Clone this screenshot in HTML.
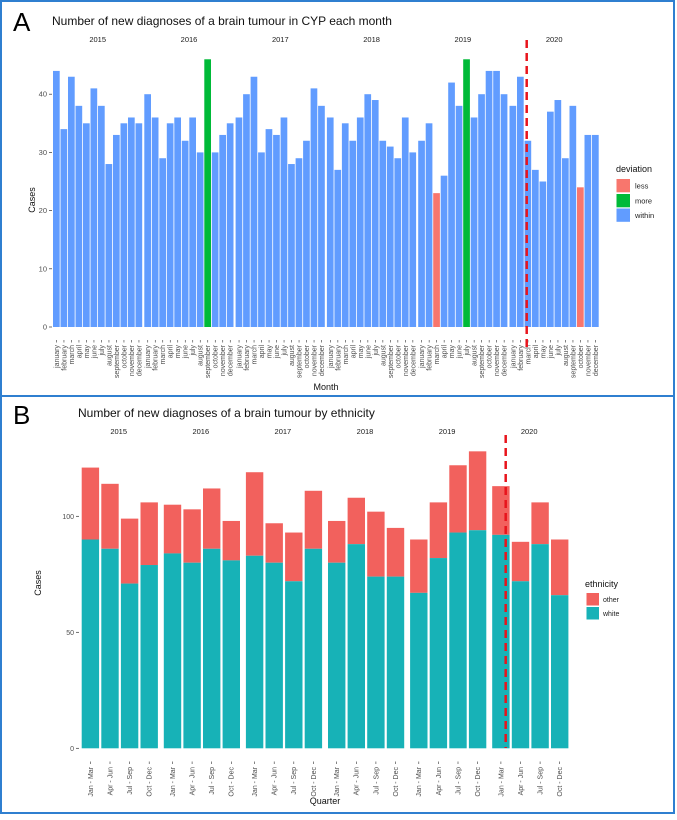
<!DOCTYPE html>
<html><head><meta charset="utf-8">
<style>
html,body{margin:0;padding:0;background:#fff;}
body{width:677px;height:815px;overflow:hidden;font-family:"Liberation Sans",Arial,sans-serif;}
svg text{font-family:"Liberation Sans",Arial,sans-serif;}
</style></head>
<body>
<svg id="fig" width="677" height="815" viewBox="0 0 677 815" xmlns="http://www.w3.org/2000/svg">
  <rect x="1" y="1" width="673" height="395" fill="#fff" stroke="#2f7fd0" stroke-width="2"/>
  <rect x="1" y="396" width="673" height="417" fill="#fff" stroke="#2f7fd0" stroke-width="2"/>
  <text x="13" y="31" font-size="26" fill="#000">A</text>
  <text x="52" y="25" font-size="12" fill="#111">Number of new diagnoses of a brain tumour in CYP each month</text>
  <text x="13" y="424" font-size="26" fill="#000">B</text>
  <text x="78" y="417" font-size="12" fill="#111">Number of new diagnoses of a brain tumour by ethnicity</text>
  <g id="gA"></g>
  <g id="gB"></g>
</svg>
<script>
const years = ["2015","2016","2017","2018","2019","2020"];
const months = ["january","february","march","april","may","june","july","august","september","october","november","december"];
const monthlyCases = [
 44,34,43,38,35,41,38,28,33,35,36,35,
 40,36,29,35,36,32,36,30,46,30,33,35,
 36,40,43,30,34,33,36,28,29,32,41,38,
 36,27,35,32,36,40,39,32,31,29,36,30,
 32,35,23,26,42,38,46,36,40,44,44,40,
 38,43,32,27,25,37,39,29,38,24,33,33];
const monthlyDeviation = [
 "w","w","w","w","w","w","w","w","w","w","w","w",
 "w","w","w","w","w","w","w","w","m","w","w","w",
 "w","w","w","w","w","w","w","w","w","w","w","w",
 "w","w","w","w","w","w","w","w","w","w","w","w",
 "w","w","l","w","w","w","m","w","w","w","w","w",
 "w","w","w","w","w","w","w","w","w","l","w","w"];
const yTicksA = [0,10,20,30,40];
const quarters = ["Jan - Mar","Apr - Jun","Jul - Sep","Oct - Dec"];
const totalCases = [121,114,99,106, 105,103,112,98, 119,97,93,111, 98,108,102,95, 90,106,122,128, 113,89,106,90];
const whiteCases = [90,86,71,79, 84,80,86,81, 83,80,72,86, 80,88,74,74, 67,82,93,94, 92,72,88,66];
const yTicksB = [0,50,100];

const NS="http://www.w3.org/2000/svg";
function mk(parent,tag,attrs,txt){const e=document.createElementNS(NS,tag);for(const k in attrs)e.setAttribute(k,attrs[k]);if(txt!==undefined)e.textContent=txt;parent.appendChild(e);return e;}
const colA={w:"#619cff",m:"#00ba38",l:"#f8766d"};
const colOther="#f2615d", colWhite="#17b2b7";

// Panel A
const gA=document.getElementById('gA');
const yA=v=>327-v*5.82;
const facetXA=i=>52.7+i*91.3;
const step=7.5;
yTicksA.forEach(t=>{
  const tk=mk(gA,'line',{x1:49,x2:52,y1:yA(t),y2:yA(t),stroke:'#333','stroke-width':0.7});
  
  
  const tl=mk(gA,'text',{x:47,y:yA(t)+2.5,'font-size':7.5,fill:'#4d4d4d','text-anchor':'end'},String(t));
  
  
});
const yta=mk(gA,'text',{x:0,y:0,'font-size':9,fill:'#111','text-anchor':'middle',transform:'translate(35,200) rotate(-90)'},'Cases');


years.forEach((yr,fi)=>{
  const fl=mk(gA,'text',{x:facetXA(fi)+45,y:42,'font-size':7.5,fill:'#1a1a1a','text-anchor':'middle'},yr);
  
  
  months.forEach((m,mi)=>{
    const idx=fi*12+mi;const v=monthlyCases[idx];
    const x=facetXA(fi)+mi*step;
    const r=mk(gA,'rect',{x:x+0.3,y:yA(v),width:step-0.8,height:yA(0)-yA(v),fill:colA[monthlyDeviation[idx]]});
    
    
    const cx=x+step/2;
    mk(gA,'line',{x1:cx,x2:cx,y1:340,y2:342.5,stroke:'#333','stroke-width':0.6});
    const ml=mk(gA,'text',{x:0,y:0,'font-size':7,fill:'#4d4d4d','text-anchor':'end',transform:'translate('+(cx+2.4)+',345) rotate(-90)'},m);
    
    
  });
});
const dlA=mk(gA,'line',{x1:526.7,x2:526.7,y1:40,y2:348,stroke:'#e8141c','stroke-width':2.5,'stroke-dasharray':'8,5'});


const xta=mk(gA,'text',{x:326,y:390,'font-size':9,fill:'#111','text-anchor':'middle'},'Month');


const lgtA=mk(gA,'text',{x:616,y:172,'font-size':9,fill:'#111'},'deviation');


[['less','l',179],['more','m',194],['within','w',208.5]].forEach(([lab,k,y])=>{
  const kr=mk(gA,'rect',{x:616.5,y:y,width:13.5,height:13.3,fill:colA[k]});
  
  
  const kt=mk(gA,'text',{x:635,y:y+9.5,'font-size':7.5,fill:'#222'},lab);
  
  
});

// Panel B
const gB=document.getElementById('gB');
const yB=v=>748.3-v*2.32;
const facetXB=i=>81.7+i*82.1;
const stepB=19.6,bw=17.4;
yTicksB.forEach(t=>{
  mk(gB,'line',{x1:76,x2:79,y1:yB(t),y2:yB(t),stroke:'#333','stroke-width':0.7});
  const tl=mk(gB,'text',{x:74,y:yB(t)+2.5,'font-size':7,fill:'#4d4d4d','text-anchor':'end'},String(t));
  
  
});
const ytb=mk(gB,'text',{x:0,y:0,'font-size':9,fill:'#111','text-anchor':'middle',transform:'translate(41,583) rotate(-90)'},'Cases');


years.forEach((yr,fi)=>{
  const fl=mk(gB,'text',{x:facetXB(fi)+37,y:434,'font-size':7.5,fill:'#1a1a1a','text-anchor':'middle'},yr);
  
  
  quarters.forEach((q,qi)=>{
    const idx=fi*4+qi;
    const x=facetXB(fi)+qi*stepB;
    const ro=mk(gB,'rect',{x:x,y:yB(totalCases[idx]),width:bw,height:yB(whiteCases[idx])-yB(totalCases[idx]),fill:colOther});
    
    
    const rw=mk(gB,'rect',{x:x,y:yB(whiteCases[idx]),width:bw,height:yB(0)-yB(whiteCases[idx]),fill:colWhite});
    
    
    const cx=x+bw/2;
    mk(gB,'line',{x1:cx,x2:cx,y1:761.5,y2:764,stroke:'#333','stroke-width':0.6});
    const ql=mk(gB,'text',{x:0,y:0,'font-size':7,fill:'#4d4d4d','text-anchor':'end',transform:'translate('+(cx+2.4)+',767) rotate(-90)'},q);
    
    
  });
});
const dlB=mk(gB,'line',{x1:505.7,x2:505.7,y1:435,y2:748,stroke:'#e8141c','stroke-width':2.5,'stroke-dasharray':'8,5'});


const xtb=mk(gB,'text',{x:325,y:804,'font-size':9,fill:'#111','text-anchor':'middle'},'Quarter');


const lgtB=mk(gB,'text',{x:585,y:587,'font-size':9,fill:'#111'},'ethnicity');


[['other',colOther,593],['white',colWhite,607]].forEach(([lab,c,y])=>{
  const kr=mk(gB,'rect',{x:586.5,y:y,width:12.5,height:12.5,fill:c});
  
  
  const kt=mk(gB,'text',{x:603,y:y+9,'font-size':7,fill:'#222'},lab);
  
  
});
</script>
</body></html>
